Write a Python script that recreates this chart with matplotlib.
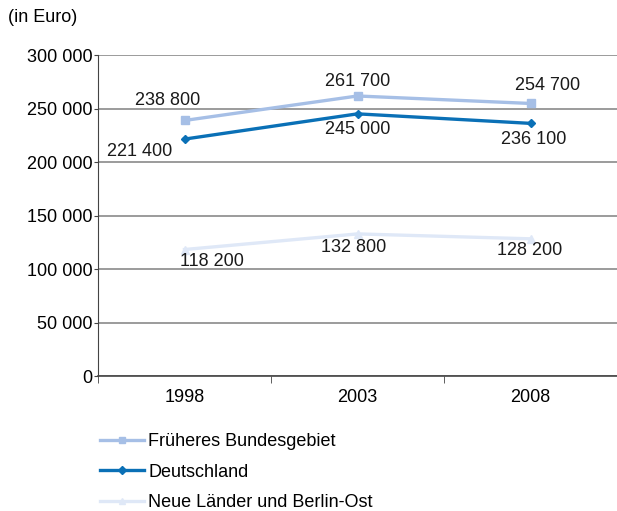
import matplotlib.pyplot as plt
from matplotlib.ticker import FuncFormatter

plt.rcParams['font.family'] = ['Liberation Sans', 'DejaVu Sans']

years = ['1998', '2003', '2008']
frueher = [238800, 261700, 254700]   # Früheres Bundesgebiet
deutsch = [221400, 245000, 236100]   # Deutschland
neue = [118200, 132800, 128200]      # Neue Länder und Berlin-Ost

# label offsets in pixels (dx, dy) relative to each point
off_frueher = [(-17, 20), (0, 14), (17, 18)]
off_deutsch = [(-45, -12), (0, -16), (3, -16)]
off_neue = [(27, -12), (-4, -14), (-1, -12)]

W, H = 617, 511
FS = 13
fig = plt.figure(figsize=(W / 100, H / 100), dpi=100)
ax = fig.add_axes([98 / W, (H - 376) / H, (W - 98) / W, (376 - 55) / H])

x = list(range(len(years)))
ax.plot(x, frueher, color='#a6bfe6', lw=2.4, marker='s', ms=6, label='Früheres Bundesgebiet')
ax.plot(x, deutsch, color='#0a70b6', lw=2.4, marker='D', ms=4.5, label='Deutschland')
ax.plot(x, neue, color='#dfe8f7', lw=2.4, marker='^', ms=6, label='Neue Länder und Berlin-Ost')

def fmt(v):
    return f'{v:,.0f}'.replace(',', ' ')

for series, offs in [(frueher, off_frueher), (deutsch, off_deutsch), (neue, off_neue)]:
    for xi, v, (dx, dy) in zip(x, series, offs):
        ax.annotate(fmt(v), (xi, v), xytext=(dx * 0.72, dy * 0.72), textcoords='offset points',
                    ha='center', va='center', fontsize=FS, color='#1a1a1a')

ax.set_xlim(-0.5, -0.5 + (W - 98) / 177)
ax.set_ylim(0, 300000)
ax.set_yticks(range(0, 300001, 50000))
ax.yaxis.set_major_formatter(FuncFormatter(lambda v, p: fmt(v)))
ax.set_xticks(x)
ax.set_xticklabels(years)
ax.set_xticks([-0.5, 0.5, 1.5, 2.5], minor=True)
ax.tick_params(axis='x', which='major', length=0, pad=9, labelsize=FS)
ax.tick_params(axis='x', which='minor', length=5, direction='out', color='#444444')
ax.tick_params(axis='y', length=3, direction='out', labelsize=FS, color='#444444', pad=1)
ax.grid(axis='y', color='#8a8a8a', lw=1.2)
ax.set_axisbelow(True)
for s in ['top', 'right']:
    ax.spines[s].set_visible(False)
ax.spines['left'].set_color('#444444')
ax.spines['bottom'].set_color('#444444')
ax.spines['bottom'].set_linewidth(1.2)

fig.text(8 / W, 1 - 18 / H, '(in Euro)', fontsize=FS, va='center', ha='left')

fig.legend(loc='upper left', bbox_to_anchor=(84 / W, 1 - 417 / H), frameon=False,
           fontsize=FS, handlelength=2.4, handletextpad=0.25, labelspacing=0.75,
           markerscale=0.8)

fig.savefig('out.png', dpi=100)
